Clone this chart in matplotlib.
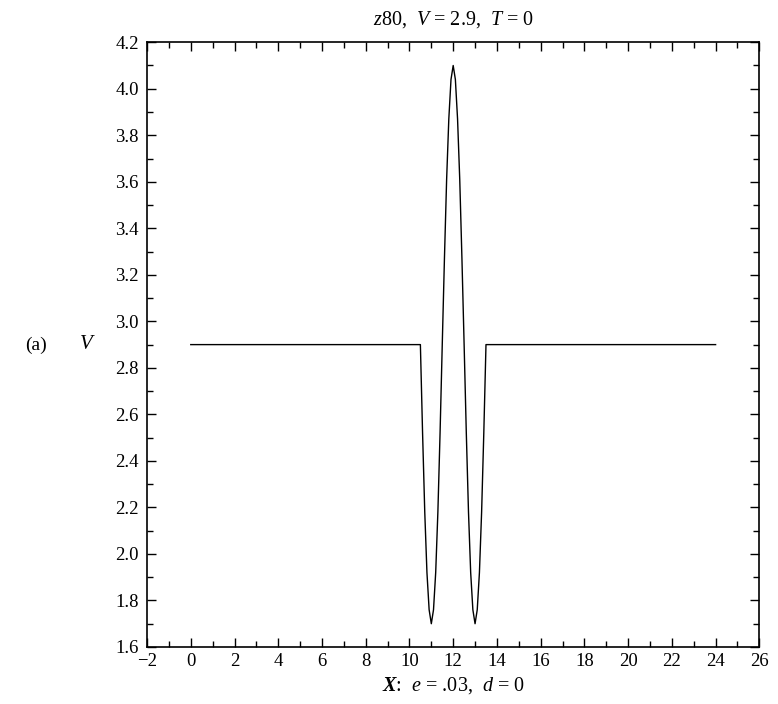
import matplotlib
matplotlib.use("Agg")
import matplotlib.pyplot as plt
from matplotlib.ticker import MultipleLocator, FormatStrFormatter

plt.rcParams['font.family'] = ['Liberation Serif', 'DejaVu Serif']
plt.rcParams['mathtext.fontset'] = 'custom'
plt.rcParams['mathtext.rm'] = 'Liberation Serif'
plt.rcParams['mathtext.it'] = 'Liberation Serif:italic'
plt.rcParams['mathtext.bf'] = 'Liberation Serif:italic:bold'

# data
x_vals = [0.0, 10.5, 10.6, 10.7, 10.8, 10.9, 11.0, 11.1, 11.2, 11.3, 11.4, 11.5,
          11.6, 11.7, 11.8, 11.9, 12.0, 12.1, 12.2, 12.3, 12.4, 12.5, 12.6, 12.7,
          12.8, 12.9, 13.0, 13.1, 13.2, 13.3, 13.4, 13.5, 24.0]
v_vals = [2.90, 2.90, 2.52, 2.18, 1.92, 1.76, 1.70, 1.76, 1.92, 2.18, 2.52, 2.90,
          3.27, 3.61, 3.87, 4.04, 4.10, 4.04, 3.87, 3.61, 3.27, 2.90, 2.52, 2.18,
          1.92, 1.76, 1.70, 1.76, 1.92, 2.18, 2.52, 2.90, 2.90]

fig = plt.figure(figsize=(7.78, 7.04), dpi=100)
ax = fig.add_axes([0.189, 0.081, 0.787, 0.859])
ax.plot(x_vals, v_vals, color='black', lw=1.0)

ax.set_xlim(-2, 26)
ax.set_ylim(1.6, 4.2)
ax.xaxis.set_major_locator(MultipleLocator(2))
ax.xaxis.set_minor_locator(MultipleLocator(1))
ax.yaxis.set_major_locator(MultipleLocator(0.2))
ax.yaxis.set_minor_locator(MultipleLocator(0.1))
ax.yaxis.set_major_formatter(FormatStrFormatter('%.1f'))
ax.xaxis.set_major_formatter(FormatStrFormatter('%d'))
ax.tick_params(which='both', direction='in', top=True, right=True, labelsize=13.5, width=1.0)
ax.tick_params(which='major', length=6.5)
ax.tick_params(axis='x', which='major', pad=4)
ax.tick_params(axis='y', which='major', pad=6)
ax.tick_params(which='minor', length=4.3)
for s in ax.spines.values():
    s.set_linewidth(1.2)
ax.set_xticklabels([str(int(t)).replace('-', '\u2212') for t in ax.get_xticks()])

ax.set_title(r'$z$80,  $V$ = 2.9,  $T$ = 0', fontsize=14.5, pad=13)
ax.set_xlabel(r'$\mathbf{X}$:  $e$ = .03,  $d$ = 0', fontsize=14.5, labelpad=4)
fig.text(87 / 778, 1 - 345 / 704, r'$V$', fontsize=15, ha='center', va='center')
fig.text(36 / 778, 1 - 345 / 704, '(a)', fontsize=14, ha='center', va='center')

fig.savefig('out.png', dpi=100)
